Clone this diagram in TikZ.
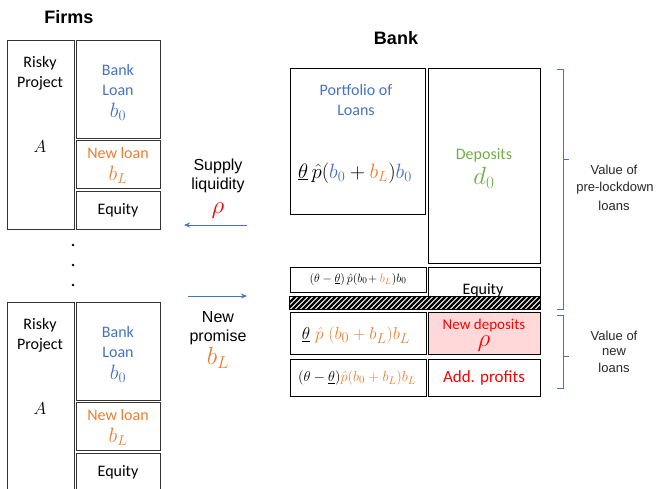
\documentclass[tikz,border=0pt]{standalone}
\usepackage{fontspec}
\usetikzlibrary{arrows.meta}
\setmainfont{Carlito}
\newfontfamily\arial{Liberation Sans}
\definecolor{cblue}{HTML}{4472C4}
\definecolor{corange}{HTML}{ED7D31}
\definecolor{cgreen}{HTML}{70AD47}
\definecolor{cred}{HTML}{FF0000}
\definecolor{cpink}{HTML}{FFD9D9}
\newcommand{\fs}[1]{\fontsize{#1}{#1}\selectfont}
\begin{document}
\begin{tikzpicture}[x=1pt,y=-1pt,
  box/.style={draw=black!80, line width=0.8pt},
  txt/.style={inner sep=0pt, font=\fs{16}},
  atxt/.style={inner sep=0pt, font=\arial\fs{16}},
  btxt/.style={inner sep=0pt, font=\arial\fs{13}, text=black!85},
  ttl/.style={inner sep=0pt, font=\arial\bfseries\fs{18}},
  arr/.style={draw=cblue, line width=1pt, -{Stealth[length=6pt,width=5pt]}},
  brace/.style={draw=cblue, line width=0.8pt}]
\useasboundingbox (0,0) rectangle (658,488);

% ---------- Firms ----------
\node[ttl] (firms) at (69,17) {Firms};
\foreach \g/\dy/\bot in {1/0/229, 2/262/491}{
  \begin{scope}[yshift=-\dy pt]
    \draw[box] (7,40.5) rectangle (74,\bot-\dy);
    \draw[box] (76,40.5) rectangle (160,138);
    \draw[box] (76,140.5) rectangle (160,188);
    \draw[box] (76,191.5) rectangle (160,\bot-\dy);
    \node[txt] (risky\g) at (40,63) {Risky};
    \node[txt] (project\g) at (40,83) {Project};
    \node[txt,font=\fs{18}] (A\g) at (40,147) {$A$};
    \node[txt,text=cblue] (bank\g) at (118,70) {Bank};
    \node[txt,text=cblue] (loan\g) at (118,90) {Loan};
    \node[txt,text=cblue,font=\fs{20}] (bz\g) at (118,112) {$b_0$};
    \node[txt,text=corange] (newloan\g) at (118,153) {New loan};
    \node[txt,text=corange,font=\fs{22}] (bL\g) at (118,175) {$b_L$};
    \node[txt] (equity\g) at (118,210) {Equity};
  \end{scope}
}
\foreach \k/\yy in {1/245,2/265,3/285}{
  \fill (73,\yy) circle (1.3pt);
}

% ---------- arrows ----------
\coordinate (s1) at (246.5,225);
\coordinate (s2) at (184,225);
\draw[arr] (s1) -- (s2);
\node[atxt] (supply) at (218,166) {Supply};
\node[atxt] (liquidity) at (218,185) {liquidity};
\node[txt,text=cred,font=\fs{24}] (rho1) at (218,211) {$\rho$};

\coordinate (p1) at (188,296);
\coordinate (p2) at (247,296);
\draw[arr] (p1) -- (p2);
\node[atxt] (new) at (218,317) {New};
\node[atxt] (promise) at (218,337) {promise};
\node[txt,text=corange,font=\fs{23}] (bLp) at (218,358) {$b_L$};

% ---------- Bank ----------
\node[ttl] (banktitle) at (396,38) {Bank};
\draw[box,draw=black] (290,68) rectangle (425.5,214);
\draw[box,draw=black] (428,68) rectangle (540,263);
\draw[box,draw=black] (290,267) rectangle (426,292);
\draw[box,draw=black] (428,267) rectangle (540,296);
\draw[box,draw=black,fill=cpink] (428,312.5) rectangle (540,354.5);
\draw[box,draw=black] (290,312.5) rectangle (426,354.5);
\draw[box,draw=black] (290,359) rectangle (426,396.5);
\draw[box,draw=black] (428,359) rectangle (540,396.5);

\node[txt,text=cblue] (portfolio) at (356,90) {Portfolio of};
\node[txt,text=cblue] (loans) at (356,110) {Loans};
\node[txt,font=\fs{20}] (pfmath) at (355,173)
  {$\underline{\theta}\,\hat{p}({\color{cblue}b_0}+{\color{corange}b_L}){\color{cblue}b_0}$};
\node[txt,text=cgreen] (deposits) at (484,155) {Deposits};
\node[txt,text=cgreen,font=\fs{23}] (d0) at (484,178) {$d_0$};
\node[txt,font=\fs{13}] (smallmath) at (358,279)
  {$(\theta-\underline{\theta})\,\hat{p}(b_0\!+{\color{corange}b_L})b_0$};
\node[txt] (bequity) at (483,290) {Equity};

% hatch
\begin{scope}
  \fill[white] (289.5,296) rectangle (540.5,309);
  \clip (289.5,296) rectangle (540.5,309);
  \foreach \i in {0,...,54}{
    \draw[line width=2.2pt] (280+\i*5,312) -- ++(18,-18);
  }
\end{scope}
\draw[box,draw=black] (289.5,296) rectangle (540.5,309);

\node[txt,font=\fs{19}] (row3math) at (356,335)
  {$\underline{\theta}\;{\color{corange}\hat{p}\;(b_0+b_L)b_L}$};
\node[txt,text=cred,font=\fs{15}] (newdep) at (484,325) {New deposits};
\node[txt,text=cred,font=\fs{26}] (rho2) at (484,344) {$\rho$};
\node[txt,font=\fs{15}] (row4math) at (357,378)
  {$(\theta-\underline{\theta}){\color{corange}\hat{p}(b_0+b_L)b_L}$};
\node[txt,text=cred,font=\fs{17}] (addprof) at (484,378) {Add. profits};

% ---------- braces ----------
\draw[brace] (557,69) -- (563,69) -- (563,309) -- (557,309);
\draw[brace] (563,159) -- (569,159);
\draw[brace] (557,315) -- (563,315) -- (563,388) -- (557,388);
\draw[brace] (563,356) -- (569,356);
\node[btxt] (v1) at (614,170) {Value of};
\node[btxt] (v2) at (615,188) {pre-lockdown};
\node[btxt] (v3) at (614,206) {loans};
\node[btxt] (w1) at (614,336) {Value of};
\node[btxt] (w2) at (614,352) {new};
\node[btxt] (w3) at (614,368) {loans};
\end{tikzpicture}
\end{document}
